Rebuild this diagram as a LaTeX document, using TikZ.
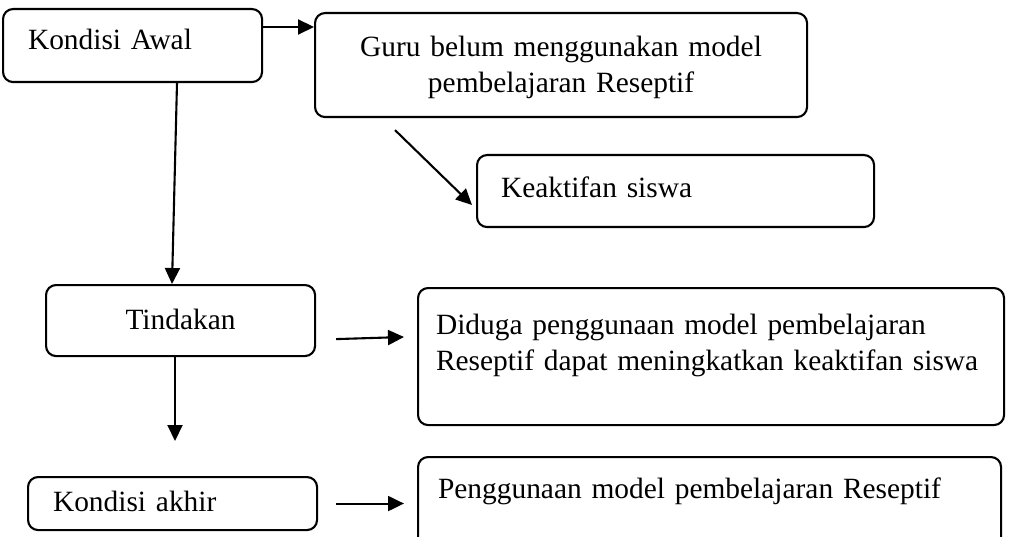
\documentclass[tikz,border=0pt]{standalone}
\usepackage{fontspec}
\setmainfont{Liberation Serif}
\usetikzlibrary{arrows.meta,calc}

\begin{document}
\begin{tikzpicture}[x=1pt,y=-1pt,
        kotak/.style={draw, rounded corners=10pt, line width=2.1pt, anchor=north west,
            inner sep=0pt, font=\fontsize{29.4}{36}\selectfont},
        panah/.style={line width=2.1pt, -{Triangle[length=16pt,width=15pt]}}]
        \useasboundingbox (0,0) rectangle (1022,537);
        %
        \node[kotak, minimum width=259, minimum height=73, text width=209, align=left,
            text height=40, text depth=33] (awal) at (2,8) {Kondisi Awal};
        \node[kotak, minimum width=492, minimum height=104, text width=452, align=center,
            text height=43, text depth=61] (guru) at (314,12) {Guru belum menggunakan model\\pembelajaran Reseptif};
        \node[kotak, minimum width=397, minimum height=72, text width=349, align=left,
            text height=42, text depth=30] (keaktifan) at (476,154) {Keaktifan siswa};

        % Tindakan
        \node[kotak, minimum width=269, minimum height=71, text width=229, align=center,
            text height=44, text depth=27] (tindakan) at (45,284) {Tindakan};
        \node[kotak, minimum width=586, minimum height=137, text width=550, align=left,
            text height=46, text depth=91] (diduga) at (417,287)
            {\mbox{Diduga penggunaan model pembelajaran}\\\mbox{Reseptif dapat meningkatkan keaktifan siswa}};

        % Kondisi akhir
        \node[kotak, minimum width=289, minimum height=53, text width=239, align=left,
            text height=34, text depth=19] (akhir) at (27,476) {Kondisi akhir};
        \node[kotak, minimum width=583, minimum height=90, text width=543, align=left,
            text height=41, text depth=49] (penggunaan) at (417,456) {Penggunaan model pembelajaran Reseptif};
        \coordinate (ujung) at (175,441);

        % Panah
        \draw[panah] ($(awal.north east)+(0,19)$) -- ($(guru.north west)+(0,15)$);
        \draw[panah] ($(guru.south west)+(81,12)$) -- ($(keaktifan.north west)+(-4,51)$);
        \draw[panah] ($(awal.south west)+(175,0)$) -- ($(tindakan.north west)+(127,0)$);
        \draw[panah] ($(tindakan.south west)+(130,0)$) -- (ujung);
        \draw[panah] ($(tindakan.south east)+(20,-18)$) -- ($(diduga.north west)+(-13,50)$);
        \draw[panah] ($(akhir.east)+(18,0)$) -- ($(penggunaan.west |- akhir.east)+(-13,0)$);

    \end{tikzpicture}
\end{document}
